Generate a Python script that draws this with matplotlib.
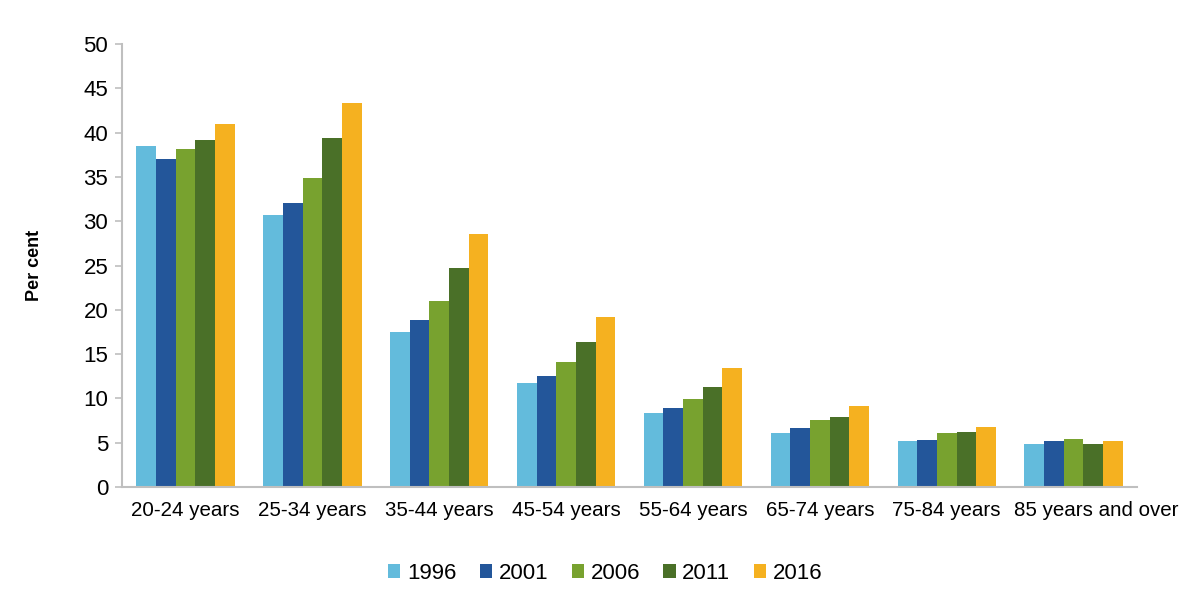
import numpy as np
import matplotlib
matplotlib.use('Agg')
import matplotlib.pyplot as plt
import matplotlib.transforms as mtransforms

plt.rcParams['font.family'] = ['Liberation Sans', 'DejaVu Sans']

# 数据
categories = ['20-24 years', '25-34 years', '35-44 years', '45-54 years',
              '55-64 years', '65-74 years', '75-84 years', '85 years and over']
years = ['1996', '2001', '2006', '2011', '2016']
v1996 = [38.5, 30.7, 17.5, 11.7, 8.3, 6.1, 5.2, 4.8]
v2001 = [37.0, 32.1, 18.8, 12.5, 8.9, 6.7, 5.3, 5.2]
v2006 = [38.1, 34.9, 21.0, 14.1, 9.9, 7.6, 6.1, 5.4]
v2011 = [39.2, 39.4, 24.7, 16.4, 11.3, 7.9, 6.2, 4.9]
v2016 = [41.0, 43.3, 28.6, 19.2, 13.4, 9.1, 6.8, 5.2]
series = [v1996, v2001, v2006, v2011, v2016]
colors = ['#63bbdc', '#23569a', '#78a22f', '#4a7028', '#f5b120']

fig = plt.figure(figsize=(12, 5.95), dpi=100)
ax = fig.add_axes([0.1017, 0.1815, 0.8458, 0.7445])

x = np.arange(len(categories))
w = 0.155
for i, (vals, c, lab) in enumerate(zip(series, colors, years)):
    ax.bar(x + (i - 2) * w, vals, width=w, color=c, label=lab, linewidth=0)

ax.set_xlim(-0.5, len(categories) - 0.5)
ax.set_ylim(0, 50)
ax.set_yticks(range(0, 51, 5))
ax.set_xticks(x)
ax.set_xticklabels(categories)
ax.tick_params(axis='y', labelsize=16, length=5, width=1.2, color='#bfbfbf', pad=5)
ax.tick_params(axis='x', labelsize=14.8, length=0, pad=10)

# 最后一个标签右移, 避免重叠
last = ax.get_xticklabels()[-1]
last.set_transform(last.get_transform() +
                   mtransforms.ScaledTranslation(0.23, 0, fig.dpi_scale_trans))

for s in ['top', 'right']:
    ax.spines[s].set_visible(False)
for s in ['left', 'bottom']:
    ax.spines[s].set_color('#bfbfbf')
    ax.spines[s].set_linewidth(1.5)

ax.set_ylabel('Per cent', fontsize=13, fontweight='bold', labelpad=29)

ax.legend(loc='center', bbox_to_anchor=(0.476, -0.195), ncol=5, frameon=False,
          fontsize=16, handlelength=0.55, handleheight=0.55, handletextpad=0.3,
          columnspacing=1.05)

fig.savefig('out.png', dpi=100)
